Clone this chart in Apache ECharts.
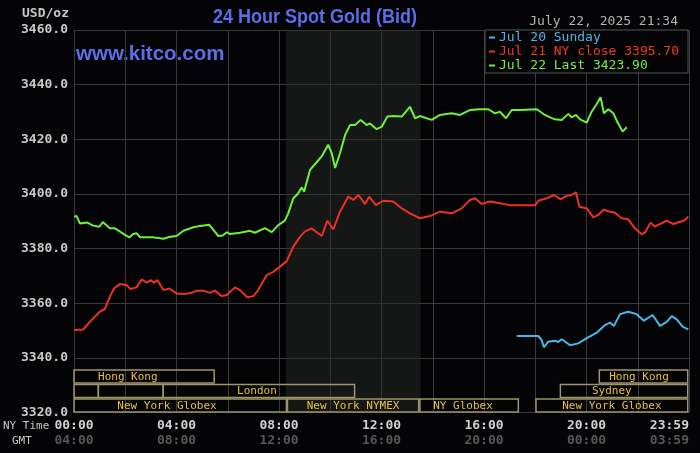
<!DOCTYPE html>
<html><head><meta charset="utf-8">
<script src="https://cdn.jsdelivr.net/npm/echarts@6/dist/echarts.min.js"></script>
<style>html,body{margin:0;padding:0;background:#040406;}#c{width:700px;height:453px;}</style>
</head><body><div id="c"></div>
<script>
// ---- data (hours since NY midnight, price USD/oz) ----
const jul20Name = 'Jul 20 Sunday';
const jul21Name = 'Jul 21 NY close 3395.70';
const jul22Name = 'Jul 22 Last 3423.90';

const jul20Points = [[17.28,3348.0],[18.12,3348.0],[18.25,3346.5],[18.34,3343.9],[18.51,3345.9],[18.77,3346.3],[18.9,3345.8],[19.03,3346.8],[19.36,3344.6],[19.68,3345.3],[20.01,3347.2],[20.4,3349.2],[20.72,3352.0],[20.92,3352.9],[21.07,3351.7],[21.31,3356.0],[21.63,3356.9],[21.96,3356.0],[22.24,3353.6],[22.58,3355.7],[22.87,3351.7],[23.13,3353.2],[23.33,3355.3],[23.52,3354.1],[23.75,3351.4],[23.97,3350.4]];

const jul21Points = [[0,3350.2],[0.36,3350.4],[0.69,3353.9],[1.01,3356.9],[1.2,3357.8],[1.4,3362.4],[1.56,3365.4],[1.79,3367.0],[2.05,3366.7],[2.2,3365.2],[2.44,3365.8],[2.64,3368.7],[2.84,3367.5],[2.99,3368.5],[3.12,3367.5],[3.25,3368.5],[3.49,3364.8],[3.72,3365.4],[4.0,3363.6],[4.33,3363.4],[4.59,3363.8],[4.79,3364.6],[5.05,3364.6],[5.31,3363.8],[5.5,3364.6],[5.76,3362.6],[5.96,3363.0],[6.28,3365.8],[6.48,3364.8],[6.76,3362.2],[7.0,3362.6],[7.19,3364.8],[7.52,3370.3],[7.78,3371.5],[8.04,3373.4],[8.3,3375.4],[8.56,3380.7],[8.82,3384.3],[9.01,3386.2],[9.27,3387.4],[9.47,3386.0],[9.67,3384.6],[9.89,3390.2],[10.12,3387.0],[10.38,3393.5],[10.7,3399.0],[10.9,3397.8],[11.1,3399.6],[11.36,3396.3],[11.52,3399.0],[11.78,3395.9],[12.07,3397.5],[12.46,3397.2],[12.79,3394.7],[13.11,3392.9],[13.5,3391.1],[13.89,3391.9],[14.28,3393.5],[14.74,3392.9],[15.13,3394.7],[15.45,3397.8],[15.65,3398.4],[15.91,3396.3],[16.23,3397.2],[16.62,3396.6],[17.02,3395.9],[18.0,3395.9],[18.12,3397.5],[18.45,3398.4],[18.73,3399.6],[18.99,3398.0],[19.2,3399.2],[19.42,3399.6],[19.59,3400.6],[19.72,3395.3],[20.01,3394.7],[20.27,3391.4],[20.46,3392.3],[20.66,3394.2],[20.92,3393.5],[21.11,3393.1],[21.37,3391.1],[21.63,3390.7],[21.89,3387.4],[22.15,3385.3],[22.28,3385.8],[22.5,3389.5],[22.67,3388.0],[22.87,3389.0],[23.13,3390.2],[23.39,3389.0],[23.65,3389.8],[23.8,3390.2],[23.97,3391.7]];

const jul22Points = [[0,3391.7],[0.1,3391.9],[0.23,3389.2],[0.52,3389.5],[0.75,3388.4],[0.99,3388.0],[1.12,3389.7],[1.4,3387.4],[1.6,3387.4],[1.99,3385.0],[2.16,3384.1],[2.31,3385.3],[2.45,3385.6],[2.58,3384.1],[3.1,3384.1],[3.49,3383.6],[3.75,3384.3],[4.0,3384.6],[4.27,3386.5],[4.66,3387.8],[4.92,3388.3],[5.28,3388.7],[5.44,3386.8],[5.63,3384.6],[5.8,3384.8],[5.96,3386.0],[6.09,3385.3],[6.48,3385.8],[6.87,3386.5],[7.06,3385.8],[7.45,3387.5],[7.72,3386.0],[7.97,3388.6],[8.23,3390.2],[8.36,3392.9],[8.56,3398.4],[8.73,3400.0],[8.89,3402.4],[8.98,3400.8],[9.21,3408.8],[9.47,3411.6],[9.67,3413.8],[9.92,3418.0],[10.06,3414.9],[10.19,3409.5],[10.38,3414.9],[10.58,3421.6],[10.77,3425.2],[10.97,3425.2],[11.19,3427.1],[11.42,3425.2],[11.55,3425.8],[11.81,3423.7],[12.01,3424.6],[12.23,3428.3],[12.46,3428.5],[12.79,3428.3],[13.11,3431.9],[13.31,3427.7],[13.5,3428.5],[13.76,3427.7],[13.96,3427.1],[14.28,3428.9],[14.74,3429.5],[15.06,3428.9],[15.45,3430.7],[15.84,3431.0],[16.17,3431.0],[16.43,3429.5],[16.62,3430.1],[16.86,3427.7],[17.08,3430.7],[17.41,3430.7],[18.06,3431.0],[18.38,3428.9],[18.58,3428.0],[18.77,3427.3],[19.03,3427.1],[19.29,3429.3],[19.42,3428.0],[19.59,3428.9],[19.75,3427.3],[20.01,3426.1],[20.2,3430.1],[20.4,3432.9],[20.55,3435.4],[20.68,3429.5],[20.85,3431.0],[21.05,3429.5],[21.2,3426.4],[21.41,3422.8],[21.57,3424.4]];

const nyTimeLabels = ['00:00','04:00','08:00','12:00','16:00','20:00','23:59'];
const gmtLabels    = ['04:00','08:00','12:00','16:00','20:00','00:00','03:59'];

const nymexOpen = 8.27, nymexClose = 13.53;

// trading sessions: row (0 = top), start hour, end hour, label, label centre hour
const sessions = [
  {row:0, start:0,     end:5.47,  label:'Hong Kong',        labelAt:2.1},
  {row:0, start:20.5,  end:23.95, label:'Hong Kong',        labelAt:22.05},
  {row:1, start:0,     end:0.95,  label:'',                 labelAt:0},
  {row:1, start:0.95,  end:3.48,  label:'',                 labelAt:0},
  {row:1, start:3.48,  end:10.95, label:'London',           labelAt:7.14},
  {row:1, start:18.98, end:23.95, label:'Sydney',           labelAt:20.99},
  {row:2, start:0,     end:8.29,  label:'New York Globex',  labelAt:3.63},
  {row:2, start:8.33,  end:13.45, label:'New York NYMEX',   labelAt:10.89},
  {row:2, start:13.5,  end:17.34, label:'NY Globex',        labelAt:15.18},
  {row:2, start:18.03, end:23.95, label:'New York Globex',  labelAt:20.99}
];

const MONO = '"DejaVu Sans Mono", "Liberation Mono", monospace';
const SANS = '"Liberation Sans", Arial, sans-serif';
const BLUE_TXT = '#5a6ee8';

const chart = echarts.init(document.getElementById('c'), null, {renderer:'canvas'});
chart.setOption({
  animation: false,
  backgroundColor: '#040406',
  grid: {left: 74, right: 11, top: 30, bottom: 40.5, containLabel: false},
  legend: {
    orient: 'vertical', left: 485, top: 30,
    padding: [1, 9, 1, 4], itemGap: 1,
    backgroundColor: '#040406', borderColor: '#555555', borderWidth: 1,
    icon: 'rect', itemWidth: 6, itemHeight: 2,
    selectedMode: false,
    textStyle: {fontFamily: MONO, fontSize: 13, padding: [0,0,0,-1]},
    data: [
      {name: jul20Name, textStyle: {color: '#4fb6ec'}},
      {name: jul21Name, textStyle: {color: '#f03a20'}},
      {name: jul22Name, textStyle: {color: '#78ee40'}}
    ]
  },
  xAxis: {
    type: 'value', min: 0, max: 24, interval: 2,
    axisLine: {show: true, lineStyle: {color: '#3a3a3a'}},
    axisTick: {show: false},
    splitLine: {show: true, lineStyle: {color: '#3a3a3a', width: 1}},
    axisLabel: {
      margin: 6, alignMaxLabel: 'right', alignMinLabel: 'center',
      formatter: function (v) {
        if (v % 4 !== 0) return '';
        const i = v / 4;
        return '{a|' + nyTimeLabels[i] + '}\n{b|' + gmtLabels[i] + '}';
      },
      rich: {
        a: {color: '#d2d2d2', fontFamily: MONO, fontSize: 13, fontWeight: 'bold', lineHeight: 15},
        b: {color: '#585858', fontFamily: MONO, fontSize: 13, fontWeight: 'bold', lineHeight: 15}
      }
    }
  },
  yAxis: {
    type: 'value', min: 3320, max: 3460, interval: 20,
    axisLine: {show: true, lineStyle: {color: '#3a3a3a'}},
    axisTick: {show: false},
    splitLine: {show: true, lineStyle: {color: '#3a3a3a', width: 1}},
    axisLabel: {
      margin: 6, color: '#c8c8c8', fontFamily: MONO, fontSize: 13, fontWeight: 'bold',
      formatter: function (v) { return v.toFixed(1); }
    }
  },
  graphic: [
    {type: 'text', x: 315, y: 17, scaleX: 0.9, originX: 0, originY: 0,
     style: {text: '24 Hour Spot Gold (Bid)', fill: BLUE_TXT, font: 'bold 20px ' + SANS, align: 'center', verticalAlign: 'middle'}},
    {type: 'text', x: 76, y: 54, style: {text: 'www.kitco.com', fill: BLUE_TXT, font: 'bold 20.5px ' + SANS, verticalAlign: 'middle'}},
    {type: 'text', left: 22, top: 7, style: {text: 'USD/oz', fill: '#c8c8c8', font: 'bold 13px ' + MONO}},
    {type: 'text', x: 678, y: 22, style: {text: 'July 22, 2025 21:34', fill: '#b4b4b4', font: '13px ' + MONO, align: 'right', verticalAlign: 'middle'}},
    {type: 'text', x: 3, y: 426, style: {text: 'NY Time', fill: '#c8c8c8', font: '11px ' + MONO, verticalAlign: 'middle'}},
    {type: 'text', x: 12, y: 441, style: {text: 'GMT', fill: '#c8c8c8', font: '11px ' + MONO, verticalAlign: 'middle'}}
  ],
  series: [
    {
      type: 'line', name: '_nymex', data: [], z: 1, silent: true,
      markArea: {silent: true, itemStyle: {color: 'rgba(42,46,42,0.45)'}, data: [[{xAxis: nymexOpen}, {xAxis: nymexClose}]]}
    },
    {
      type: 'custom', name: '_sessions', silent: true, z: 3,
      data: sessions.map((s, i) => [s.start, s.end, s.row, i, 3320]),
      encode: {x: [0, 1], y: 4},
      renderItem: function (params, api) {
        const s = sessions[api.value(3)];
        const x0 = api.coord([s.start, 3320])[0];
        const x1 = api.coord([s.end, 3320])[0];
        const bottom = api.coord([0, 3320])[1];
        const top = bottom - (3 - s.row) * 14.4 + 0.8;
        const children = [{
          type: 'rect', shape: {x: x0, y: top, width: x1 - x0, height: 13},
          style: {fill: null, stroke: '#9c9668', lineWidth: 1.5}
        }];
        if (s.label) {
          children.push({
            type: 'text', x: api.coord([s.labelAt, 3320])[0], y: top + 7,
            style: {text: s.label, fill: '#e8c040', font: '11px ' + MONO, align: 'center', verticalAlign: 'middle'}
          });
        }
        return {type: 'group', children: children};
      }
    },
    {type: 'line', name: jul20Name, data: jul20Points, showSymbol: false, z: 4,
     lineStyle: {color: '#48b8ea', width: 2}, itemStyle: {color: '#48b8ea'}},
    {type: 'line', name: jul21Name, data: jul21Points, showSymbol: false, z: 4,
     lineStyle: {color: '#ec3220', width: 2}, itemStyle: {color: '#ec3220'}},
    {type: 'line', name: jul22Name, data: jul22Points, showSymbol: false, z: 4,
     lineStyle: {color: '#6ef03c', width: 2}, itemStyle: {color: '#6ef03c'}}
  ]
});
</script></body></html>
